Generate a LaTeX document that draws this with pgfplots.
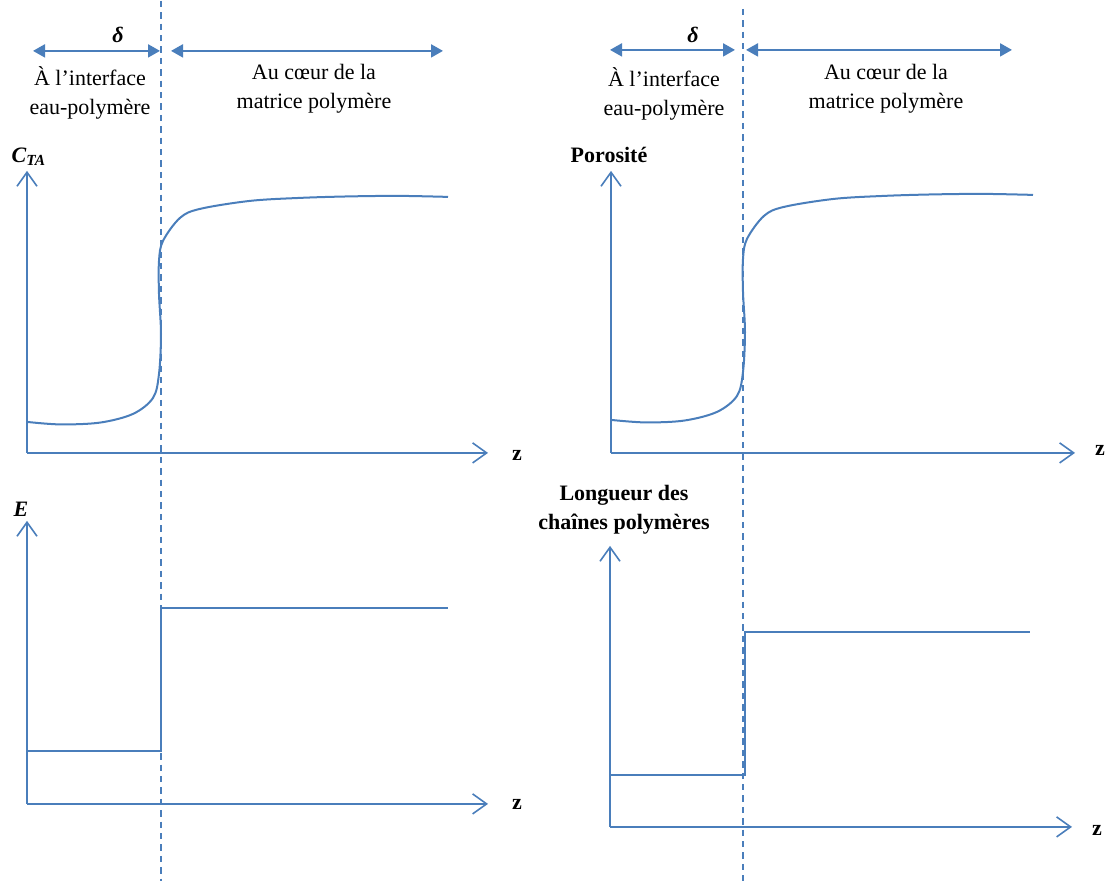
\documentclass[border=0pt]{standalone}
\usepackage{fontspec}
\setmainfont{Liberation Serif}
\usepackage{pgfplots}
\pgfplotsset{compat=1.18}
\usetikzlibrary{arrows.meta}
\definecolor{lineblue}{HTML}{4A7EBB}
\tikzset{
    ax/.style={-{Straight Barb[length=7pt,width=10pt,line width=0.8pt]}},
    dbl/.style={{Triangle[length=6pt,width=6.5pt]}-{Triangle[length=6pt,width=6.5pt]}, line width=1pt},
    lbl/.style={font=\fontsize{11}{14.5}\selectfont, align=center, text=black},
}
\begin{document}
\begin{tikzpicture}
\begin{axis}[
    scale only axis, width=557.5pt, height=440pt,
    xmin=0, xmax=1115, ymin=0, ymax=880, y dir=reverse,
    hide axis, clip=false,
    every axis plot/.append style={lineblue, line width=0.8pt},
]
% keep the whole canvas in the bounding box
\addplot[draw=none] coordinates {(0,0) (1115,880)};
% region separators
\addplot[dashed, dash pattern=on 3.2pt off 2.5pt, line width=0.9pt] coordinates {(161,0) (161,880)};
\addplot[dashed, dash pattern=on 3.2pt off 2.5pt, line width=0.9pt] coordinates {(743,8) (743,880)};
% region arrows
\addplot[dbl] coordinates {(33,50) (160,50)};
\addplot[dbl] coordinates {(171,50) (443,50)};
\addplot[dbl] coordinates {(610,49) (735,49)};
\addplot[dbl] coordinates {(746,49) (1012,49)};
\node[lbl] at (axis cs:118,34) {\bfseries\itshape δ};
\node[lbl] at (axis cs:693,34) {\bfseries\itshape δ};
\node[lbl] at (axis cs:90,92) {À l’interface\\eau-polymère};
\node[lbl] at (axis cs:314,88) {Au cœur de la\\matrice polymère};
\node[lbl] at (axis cs:664,93) {À l’interface\\eau-polymère};
\node[lbl] at (axis cs:886,88) {Au cœur de la\\matrice polymère};

% --- top left: C_TA
\addplot[ax] coordinates {(27,452) (27,170)};
\addplot[ax] coordinates {(27,452) (488,452)};
\node[lbl] at (axis cs:29,156) {\bfseries\itshape C\textsubscript{TA}};
\node[lbl] at (axis cs:517,455) {\bfseries z};
\addplot[smooth, tension=0.55, line width=1pt] coordinates {
    (27,421) (60,423.5) (100,421.7) (133,413) (153,397) (159,373)
    (161,333) (159,293) (159,260) (163,240) (180,217) (200,208)
    (250,200) (300,197) (350,195.5) (400,195) (448,196)};

% --- top right: porosity
\addplot[ax] coordinates {(611,452) (611,170)};
\addplot[ax] coordinates {(611,452) (1075,452)};
\node[lbl] at (axis cs:609,154) {\bfseries Porosité};
\node[lbl] at (axis cs:1100,450) {\bfseries z};
\addplot[smooth, tension=0.55, line width=1pt] coordinates {
    (611,419) (645,421.5) (684,419.7) (717,411) (737,395) (743,371)
    (745,331) (743,291) (743,258) (747,238) (764,215) (784,206)
    (834,198) (884,195) (934,193.5) (984,193) (1033,194)};

% --- bottom left: E
\addplot[ax] coordinates {(27,803) (27,520)};
\addplot[ax] coordinates {(27,803) (488,803)};
\node[lbl] at (axis cs:21,508) {\bfseries\itshape E};
\node[lbl] at (axis cs:517,804) {\bfseries z};
\addplot[line width=0.8pt] coordinates {(27,750) (161,750) (161,607) (448,607)};

% --- bottom right: chain length
\addplot[ax] coordinates {(610,826) (610,545)};
\addplot[ax] coordinates {(610,826) (1072,826)};
\node[lbl] at (axis cs:624,509) {\bfseries Longueur des\\\bfseries chaînes polymères};
\node[lbl] at (axis cs:1097,830) {\bfseries z};
\addplot[line width=0.8pt] coordinates {(610,774) (745,774) (745,631) (1030,631)};
\end{axis}
\end{tikzpicture}
\end{document}
